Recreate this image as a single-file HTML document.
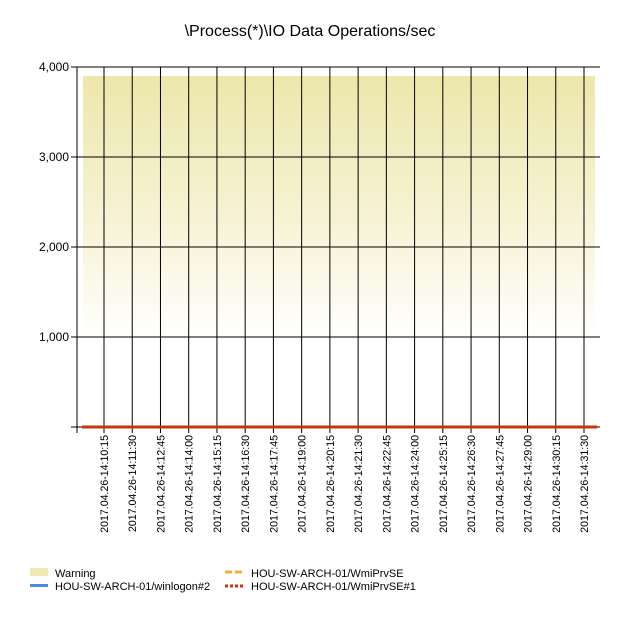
<!DOCTYPE html>
<html><head><meta charset="utf-8"><style>
body{margin:0;background:#fff;font-family:"Liberation Sans",sans-serif}
</style></head><body>
<svg width="620" height="620" xmlns="http://www.w3.org/2000/svg">
<defs><linearGradient id="g" x1="0" y1="0" x2="0" y2="1">
<stop offset="0" stop-color="#ede7ac"/><stop offset="0.45" stop-color="#f7f4d8"/><stop offset="0.75" stop-color="#ffffff"/><stop offset="1" stop-color="#ffffff"/></linearGradient></defs>
<text x="310" y="36" text-anchor="middle" font-size="16" fill="#000">\Process(*)\IO Data Operations/sec</text>
<g id="plot"></g>
<g id="legend" font-size="11" fill="#000">
<rect x="30" y="568" width="18" height="8" fill="#eee8b4"/>
<text x="55" y="577">Warning</text>
<rect x="30" y="584" width="18" height="3" fill="#4a8de0"/>
<text x="55" y="590">HOU-SW-ARCH-01/winlogon#2</text>
<line x1="225" y1="572" x2="243" y2="572" stroke="#f5ae3c" stroke-width="3" stroke-dasharray="7,3"/>
<text x="251" y="577">HOU-SW-ARCH-01/WmiPrvSE</text>
<line x1="225" y1="586" x2="243" y2="586" stroke="#c8340c" stroke-width="3" stroke-dasharray="3,2"/>
<text x="251" y="590">HOU-SW-ARCH-01/WmiPrvSE#1</text>
</g>
</svg>
<script>
const yTicks=[0,1000,2000,3000,4000];
const yLabels=["","1,000","2,000","3,000","4,000"];
const xLabels=["2017.04.26-14:10:15","2017.04.26-14:11:30","2017.04.26-14:12:45","2017.04.26-14:14:00","2017.04.26-14:15:15","2017.04.26-14:16:30","2017.04.26-14:17:45","2017.04.26-14:19:00","2017.04.26-14:20:15","2017.04.26-14:21:30","2017.04.26-14:22:45","2017.04.26-14:24:00","2017.04.26-14:25:15","2017.04.26-14:26:30","2017.04.26-14:27:45","2017.04.26-14:29:00","2017.04.26-14:30:15","2017.04.26-14:31:30"];
const warningLevel=[3900];
const seriesValues=[0,0,0,0,0,0,0,0,0,0,0,0,0,0,0,0,0,0];
const NS="http://www.w3.org/2000/svg";
const L=77,R=600,T=67,B=427;
const y=v=>B-(v/4000)*(B-T);
const x=i=>104+i*(584-104)/(xLabels.length-1);
const g=document.getElementById('plot');
function mk(t,a){const e=document.createElementNS(NS,t);for(const k in a)e.setAttribute(k,a[k]);g.appendChild(e);return e;}
let band=mk('rect',{x:83,y:y(warningLevel[0]),width:512,height:B-y(warningLevel[0]),fill:'url(#g)'});


yTicks.forEach((v,i)=>{
 let ln=mk('line',{x1:L-6,x2:R,y1:y(v),y2:y(v),stroke:'#000','stroke-width':1});
 
 
 if(yLabels[i]){let t=mk('text',{x:L-8,y:y(v)+4,'text-anchor':'end','font-size':12,fill:'#000'});t.textContent=yLabels[i];
 
 }
});
let ax=mk('line',{x1:L,x2:L,y1:T,y2:B+6,stroke:'#000'});


xLabels.forEach((s,i)=>{
 let ln=mk('line',{x1:x(i),x2:x(i),y1:T,y2:B+6,stroke:'#000'});
 
 
 let t=mk('text',{transform:`translate(${x(i)+4},${B+8}) rotate(-90)`,'text-anchor':'end','font-size':10.6,fill:'#000'});
 t.textContent=s;
 
 
});
let pts=seriesValues.map((v,i)=>`${i==0?82:i==seriesValues.length-1?597:x(i)},${y(v)}`).join(' ');
let s1=mk('polyline',{points:pts,fill:'none',stroke:'#c8340c','stroke-width':3});


</script>
</body></html>
